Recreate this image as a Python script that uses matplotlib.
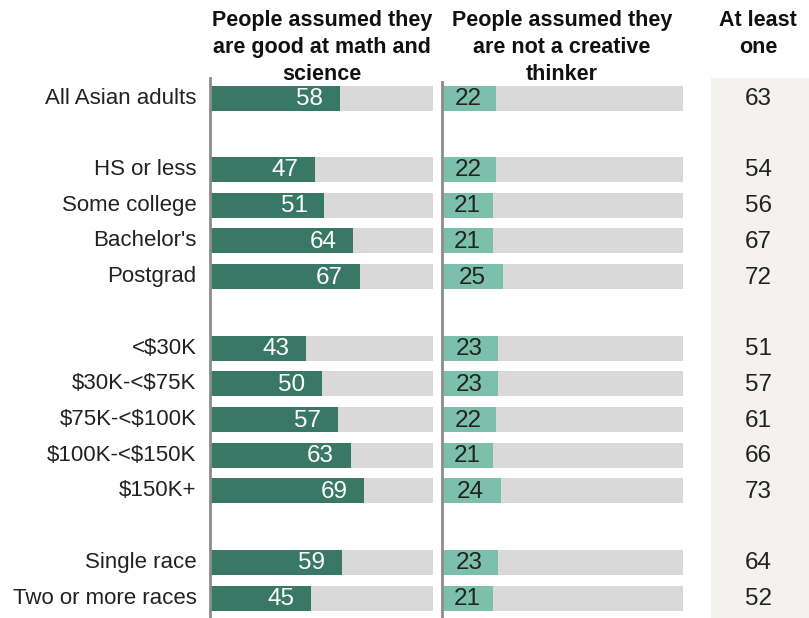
import matplotlib
matplotlib.use("Agg")
import matplotlib.pyplot as plt

plt.rcParams['font.family'] = ['Liberation Sans', 'DejaVu Sans']
plt.rcParams['text.parse_math'] = False

# Share of Asian adults who say people assumed ...
groups = [
    ["All Asian adults"],
    ["HS or less", "Some college", "Bachelor's", "Postgrad"],
    ["<$30K", "$30K-<$75K", "$75K-<$100K", "$100K-<$150K", "$150K+"],
    ["Single race", "Two or more races"],
]
math_science = [58, 47, 51, 64, 67, 43, 50, 57, 63, 69, 59, 45]
not_creative = [22, 22, 21, 21, 25, 23, 23, 22, 21, 24, 23, 21]
at_least_one = [63, 54, 56, 67, 72, 51, 57, 61, 66, 73, 64, 52]

headers = ["People assumed they\nare good at math and\nscience",
           "People assumed they\nare not a creative\nthinker",
           "At least\none"]

DARK = "#3a7866"
LIGHT = "#7cc0ab"
GREY = "#d9d9d9"
SHADE = "#f3f2ee"
AXIS = "#8c8c8c"
TEXT = "#222222"

# row slots with a blank row between groups
labels, rows = [], []
slot = 0
for g in groups:
    for name in g:
        labels.append(name)
        rows.append(slot)
        slot += 1
    slot += 1
n_slots = slot - 1

W, H = 809, 618
fig = plt.figure(figsize=(W / 100, H / 100), dpi=100)

top_px, bot_px = 78, 618
row0_px, step_px = 98, (598 - 98) / (n_slots - 1)
ylim = ((bot_px - row0_px) / step_px, -(row0_px - top_px) / step_px)


def add_ax(x0, x1):
    ax = fig.add_axes([x0 / W, 1 - bot_px / H, (x1 - x0) / W, (bot_px - top_px) / H])
    ax.set_ylim(*ylim)
    ax.axis("off")
    return ax


bar_h = 25 / step_px
num_size = 17.5

ax1 = add_ax(211, 433)
ax1.set_xlim(0, 100)
ax1.barh(rows, [100] * len(rows), height=bar_h, color=GREY)
ax1.barh(rows, math_science, height=bar_h, color=DARK)
for r, v in zip(rows, math_science):
    ax1.text(v - 7.5, r + 0.03, str(v), ha="right", va="center", color="white", fontsize=num_size)
ax1.axvline(-0.45, color=AXIS, lw=2, clip_on=False)

ax2 = add_ax(443, 683)
ax2.set_xlim(0, 100)
ax2.barh(rows, [100] * len(rows), height=bar_h, color=GREY)
ax2.barh(rows, not_creative, height=bar_h, color=LIGHT)
for r, v in zip(rows, not_creative):
    ax2.text(v / 2 - 0.5, r + 0.03, str(v), ha="center", va="center", color=TEXT, fontsize=num_size)
ax2.axvline(-0.42, color=AXIS, lw=2, ymax=1 - 4 / (bot_px - top_px), clip_on=False)

ax3 = add_ax(711, 809)
ax3.set_xlim(0, 1)
ax3.axvspan(0, 1, color=SHADE, zorder=0)
for r, v in zip(rows, at_least_one):
    ax3.text(0.48, r + 0.03, str(v), ha="center", va="center", color=TEXT, fontsize=num_size)

# row labels
for r, name in zip(rows, labels):
    ax1.text(-6.5, r, name, ha="right", va="center", color=TEXT, fontsize=16)

# column headers
for x, h in zip([322, 562, 758], headers):
    fig.text(x / W, 1 - 10 / H, h, ha="center", va="top", fontsize=15.5,
             fontweight="bold", color="#111111", linespacing=1.36)

fig.savefig("out.png", dpi=100)
